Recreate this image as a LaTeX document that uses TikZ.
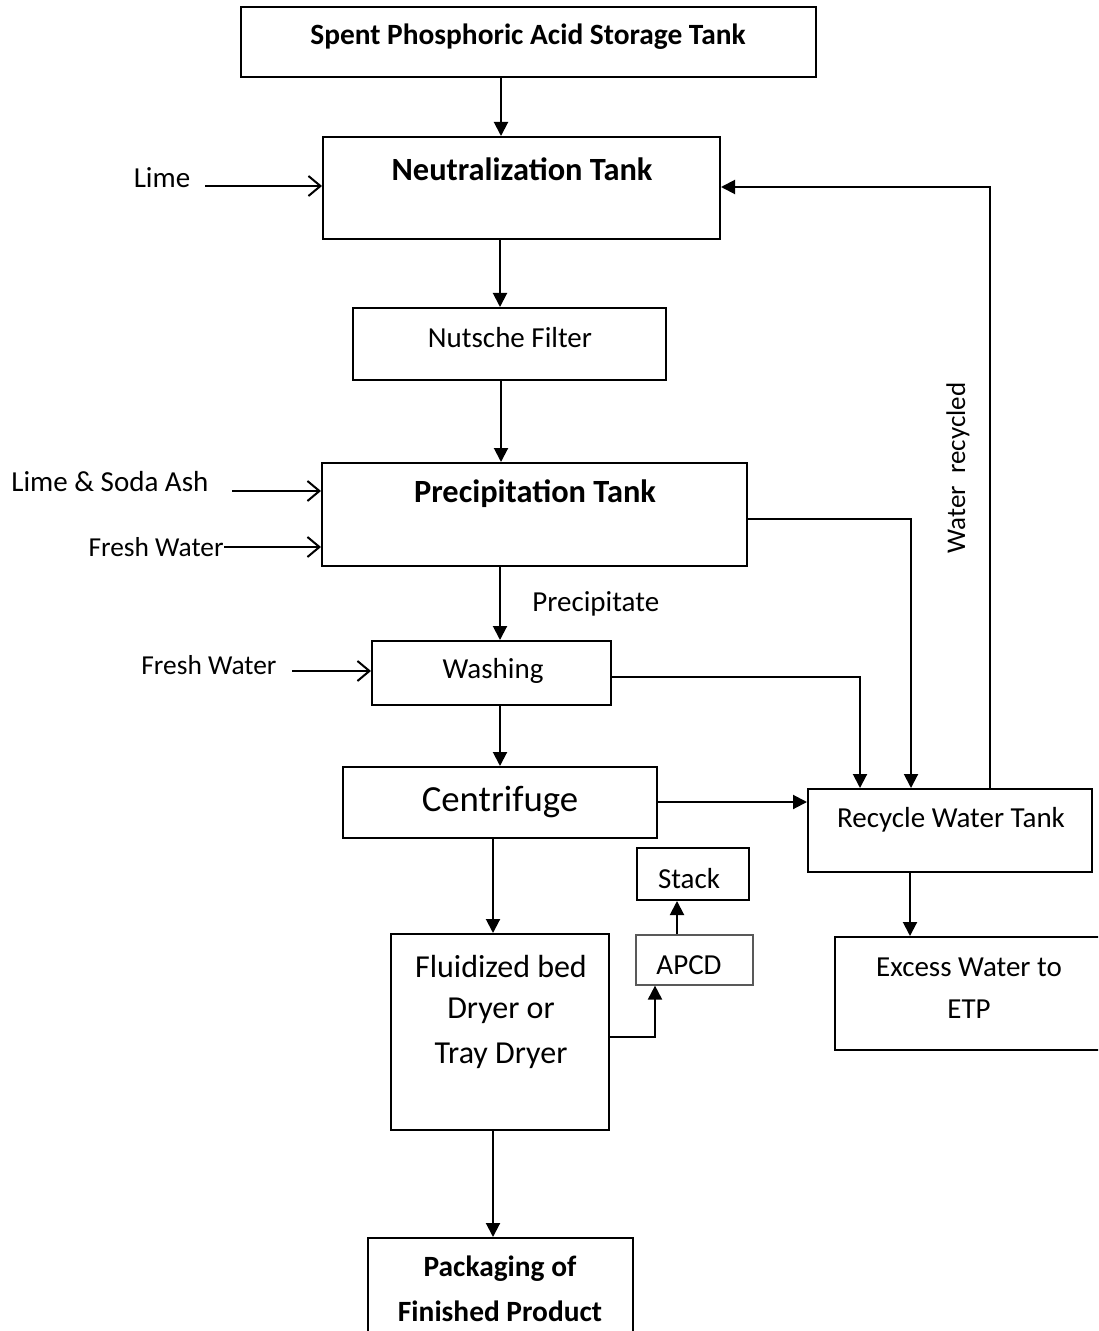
\documentclass[tikz,border=0pt]{standalone}
\usepackage{fontspec}
\setmainfont{Carlito}
\usetikzlibrary{arrows.meta,calc}
\begin{document}
\begin{tikzpicture}[x=0.5pt,y=-0.5pt,
  box/.style={draw,line width=1pt,inner sep=0pt},
  txt/.style={font=\fontsize{14.5}{17}\selectfont,inner sep=0pt},
  btxt/.style={font=\fontsize{14.7}{17}\selectfont\bfseries,inner sep=0pt},
  bigb/.style={font=\fontsize{16.2}{19}\selectfont\bfseries,inner sep=0pt},
  arr/.style={line width=1pt,-{Triangle[length=7pt,width=7pt]}},
  feed/.style={line width=0.9pt,-{Straight Barb[length=6pt,width=10pt,line width=1pt]}}]
\useasboundingbox (0,0) rectangle (1098,1331);
\fill[white] (0,0) rectangle (1098,1331);
\clip (0,0) rectangle (1098,1331);

% boxes
\node[box,minimum width=287.5pt,minimum height=35pt] (spent) at (528.5,42) {};
\node[box,minimum width=198.5pt,minimum height=51pt] (neut) at (521.5,188) {};
\node[box,minimum width=156.5pt,minimum height=36pt] (nut) at (509.5,344) {};
\node[box,minimum width=212.5pt,minimum height=51.5pt] (prec) at (534.5,514.5) {};
\node[box,minimum width=119.5pt,minimum height=32pt] (wash) at (491.5,673) {};
\node[box,minimum width=157pt,minimum height=35.5pt] (cent) at (500,802.5) {};
\node[box,minimum width=142pt,minimum height=41.5pt] (recy) at (950,830.5) {};
\node[box,minimum width=137.5pt,minimum height=56.5pt] (exce) at (972.5,993.5) {};
\node[box,minimum width=109pt,minimum height=98pt] (flui) at (500,1032) {};
\node[box,draw=black!65,line width=0.6pt,minimum width=58.5pt,minimum height=25pt] (apcd) at (694.5,960) {};
\node[box,minimum width=56pt,minimum height=26pt] (stack) at (693,874) {};
\node[box,minimum width=132.5pt,minimum height=53.5pt] (pack) at (500.5,1291.5) {};

% box texts
\node[btxt] (tspent) at (528,37) {Spent Phosphoric Acid Storage Tank};
\node[bigb] (tneut) at (522,169) {Neutralization Tank};
\node[txt] (tnut) at (510,338) {Nutsche Filter};
\node[bigb] (tprec) at (535,494) {Precipitation Tank};
\node[txt] (twash) at (493,671) {Washing};
\node[txt,font=\fontsize{18.4}{22}\selectfont] (tcent) at (500,802) {Centrifuge};
\node[txt] (trecy) at (951,820) {Recycle Water Tank};
\node[txt] (texce1) at (969,967) {Excess Water to};
\node[txt] (texce2) at (969,1009) {ETP};
\node[txt,font=\fontsize{16}{19}\selectfont] (tflui1) at (501,966) {Fluidized bed};
\node[txt,font=\fontsize{16}{19}\selectfont] (tflui2) at (501,1011) {Dryer or};
\node[txt,font=\fontsize{16}{19}\selectfont] (tflui3) at (501,1056) {Tray Dryer};
\node[txt] (tapcd) at (689,965) {APCD};
\node[txt] (tstack) at (689,879) {Stack};
\node[btxt] (tpack1) at (500,1269) {Packaging of};
\node[btxt] (tpack2) at (500,1311) {Finished Product};

% side labels
\node[txt] (lime) at (162,178) {Lime};
\node[txt,anchor=west] (limesoda) at (11,482) {Lime \& Soda Ash};
\node[txt,font=\fontsize{13.7}{16}\selectfont,anchor=east] (fw1) at (224,547) {Fresh Water};
\node[txt,font=\fontsize{13.7}{16}\selectfont,anchor=west] (fw2) at (141,665) {Fresh Water};
\node[txt,anchor=west] (precip) at (532,604) {Precipitate};
\node[txt,font=\fontsize{13.5}{16}\selectfont,rotate=90] (wrec) at (958,468) {Water\ \ recycled};

% coordinates
\coordinate (x501) at (501,0);
\coordinate (x500) at (500,0);
\coordinate (x493) at (493,0);
\coordinate (x910) at (910,0);
\coordinate (x677) at (677,0);
\coordinate (ls) at (205,186);
\coordinate (lss) at (232,491);
\coordinate (fws2) at (292,671);
\coordinate (fb) at (990,187);
\coordinate (pr) at (911,519);
\coordinate (wr) at (860,677);
\coordinate (cr) at (700,802);
\coordinate (fa) at (655,1037);

% main flow
\draw[arr] (spent.south -| x501) -- (neut.north -| x501);
\draw[arr] (neut.south -| x500) -- (nut.north -| x500);
\draw[arr] (nut.south -| x501) -- (prec.north -| x501);
\draw[arr] (prec.south -| x500) -- (wash.north -| x500);
\draw[arr] (wash.south -| x500) -- (cent.north -| x500);
\draw[arr] (cent.south -| x493) -- (flui.north -| x493);
\draw[arr] (flui.south -| x493) -- (pack.north -| x493);
\draw[arr] (flui.east |- fa) -- (fa) -- (apcd.south -| fa);
\draw[arr] (apcd.north -| x677) -- (stack.south -| x677);

% water loops
\draw[arr] (cent.east |- cr) -- (recy.west |- cr);
\draw[arr] (prec.east |- pr) -- (pr) -- (recy.north -| pr);
\draw[arr] (wash.east |- wr) -- (wr) -- (recy.north -| wr);
\draw[arr] (recy.north -| fb) -- (fb) -- (neut.east |- fb);
\draw[arr] (recy.south -| x910) -- (exce.north -| x910);

% feeds
\draw[feed] (ls) -- (neut.west |- ls);
\draw[feed] (lss) -- (prec.west |- lss);
\draw[feed] (fw1.east) -- (prec.west |- fw1.east);
\draw[feed] (fws2) -- (wash.west |- fws2);
\end{tikzpicture}
\end{document}
